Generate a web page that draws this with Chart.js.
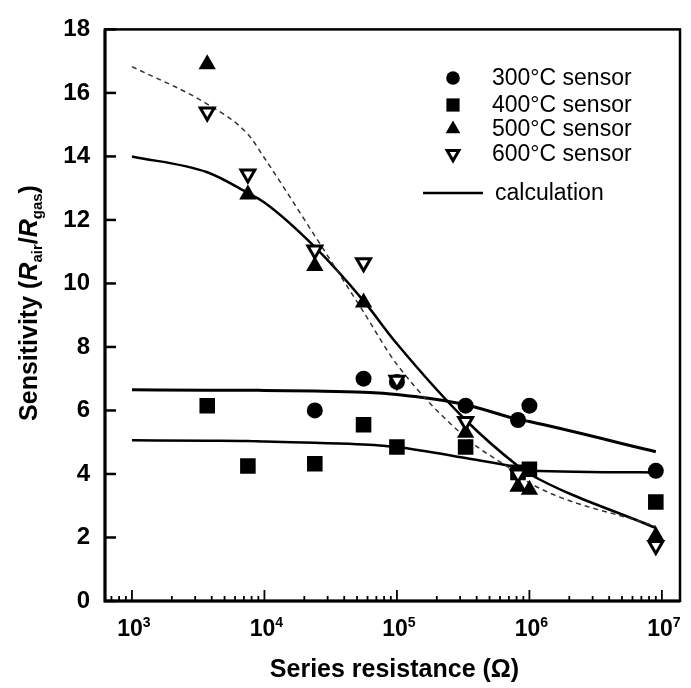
<!DOCTYPE html>
<html>
<head>
<meta charset="utf-8">
<script src="https://cdn.jsdelivr.net/npm/chart.js@4.4.0/dist/chart.umd.min.js"></script>
<style>
  html, body { margin: 0; padding: 0; background: #fff; }
  canvas { display: block; }
</style>
</head>
<body>
<canvas id="c" width="691" height="688"></canvas>
<script>
// measured points (series resistance in ohm)
const sensorR = [3.7e3, 7.5e3, 2.4e4, 5.6e4, 1e5, 3.3e5, 8.2e5, 1e6, 9e6];
const s300 = [null, null, 6.0, 7.0, 6.9, 6.15, 5.7, 6.15, 4.1];
const s400 = [6.15, 4.25, 4.32, 5.55, 4.85, 4.85, 4.05, 4.15, 3.12];
const s500 = [16.9, 12.8, 10.55, 9.4, null, 5.3, 3.6, 3.5, 2.05];
const s600 = [15.4, 13.45, 11.05, 10.65, 6.95, 5.65, 4.0, null, 1.75];

// calculated curves
const calcR = [1e3, 3.7e3, 7.5e3, 1e4, 2.4e4, 5.6e4, 1e5, 3.3e5, 8.2e5, 1e6, 9e6];
const calc300 = [6.65, 6.64, 6.64, 6.63, 6.61, 6.57, 6.5, 6.18, 5.72, 5.65, 4.7];
const calc400 = [5.06, 5.05, 5.04, 5.02, 4.98, 4.93, 4.85, 4.5, 4.2, 4.1, 4.05];
const calc500 = [14.0, 13.5, 12.85, 12.55, 11.15, 9.45, 8.1, 5.7, 4.25, 4.0, 2.3];
const calc600 = [16.83, 15.65, 14.7, 13.95, 11.5, 9.1, 7.45, 5.15, 4.0, 3.72, 2.35];

const yTickLabels = ['0', '2', '4', '6', '8', '10', '12', '14', '16', '18'];
const xTickExponents = [3, 4, 5, 6, 7];
const legendLabels = ['300\u00b0C sensor', '400\u00b0C sensor', '500\u00b0C sensor', '600\u00b0C sensor', 'calculation'];

const FONT = '"Liberation Sans", Arial, Helvetica, sans-serif';

function pts(xs, ys) {
    return xs.map((x, i) => ({ x: x, y: ys[i] })).filter(p => p.y !== null);
}

// marker styles, also used by the hand drawn legend
const markerStyles = [
    { pointStyle: 'circle', radius: 8, rotation: 0, bg: '#000', bw: 0 },
    { pointStyle: 'rect', radius: 11, rotation: 0, bg: '#000', bw: 0 },
    { pointStyle: 'triangle', radius: 10, rotation: 0, bg: '#000', bw: 0 },
    { pointStyle: 'triangle', radius: 8, rotation: 180, bg: '#fff', bw: 3 }
];

function markerSet(label, data, st) {
    return {
        label: label,
        data: data,
        showLine: false,
        pointStyle: st.pointStyle,
        pointRadius: st.radius,
        pointRotation: st.rotation,
        pointBackgroundColor: st.bg,
        pointBorderColor: '#000',
        pointBorderWidth: st.bw
    };
}

function calcSet(data, width, dash, color) {
    return {
        label: 'calculation',
        data: data,
        showLine: true,
        pointRadius: 0,
        borderColor: color,
        borderWidth: width,
        borderDash: dash,
        cubicInterpolationMode: 'monotone'
    };
}

// draw a run of text pieces (normal + subscript) along the current x axis
function drawPieces(ctx, pieces, cx, baseY) {
    let total = 0;
    pieces.forEach(p => { ctx.font = p.font; total += ctx.measureText(p.t).width; });
    let x = cx - total / 2;
    pieces.forEach(p => {
        ctx.font = p.font;
        ctx.fillText(p.t, x, baseY + (p.dy || 0));
        x += ctx.measureText(p.t).width;
    });
}

const decorPlugin = {
    id: 'decor',
    afterDatasetsDraw(chart) {
        const ctx = chart.ctx;
        const a = chart.chartArea;
        const xs = chart.scales.x;
        const ys = chart.scales.y;
        ctx.save();
        ctx.strokeStyle = '#000';
        ctx.lineWidth = 2.5;
        ctx.strokeRect(a.left, a.top, a.right - a.left, a.bottom - a.top);
        // heavier left and bottom axis lines
        ctx.lineWidth = 3;
        ctx.beginPath();
        ctx.moveTo(a.left, a.top);
        ctx.lineTo(a.left, a.bottom);
        ctx.lineTo(a.right, a.bottom);
        ctx.stroke();

        // inward ticks on left axis
        ctx.lineWidth = 2.5;
        ys.ticks.forEach(t => {
            const py = ys.getPixelForValue(t.value);
            ctx.beginPath();
            ctx.moveTo(a.left, py);
            ctx.lineTo(a.left + 11, py);
            ctx.stroke();
        });

        // inward log ticks on bottom axis
        ctx.lineWidth = 1.8;
        for (let e = 2; e <= 7; e++) {
            for (let m = 1; m <= 9; m++) {
                const v = m * Math.pow(10, e);
                if (v < xs.min || v > xs.max) continue;
                const px = xs.getPixelForValue(v);
                ctx.beginPath();
                ctx.moveTo(px, a.bottom);
                ctx.lineTo(px, a.bottom - (m === 1 ? 11 : 5));
                ctx.stroke();
            }
        }
        ctx.restore();
    },
    afterDraw(chart) {
        const ctx = chart.ctx;
        const a = chart.chartArea;
        const xs = chart.scales.x;
        ctx.save();
        ctx.fillStyle = '#000';
        ctx.textBaseline = 'alphabetic';
        ctx.textAlign = 'left';

        // x tick labels 10^n
        xTickExponents.forEach(e => {
            const px = xs.getPixelForValue(Math.pow(10, e));
            drawPieces(ctx, [
                { t: '10', font: 'bold 23px ' + FONT },
                { t: String(e), font: 'bold 14px ' + FONT, dy: -9 }
            ], px + 2, 636);
        });

        // x title
        drawPieces(ctx, [{ t: 'Series resistance (\u03a9)', font: 'bold 25px ' + FONT }], (a.left + a.right) / 2 + 2, 677);

        // y title with subscripts
        ctx.save();
        ctx.translate(28, 303);
        ctx.rotate(-Math.PI / 2);
        drawPieces(ctx, [
            { t: 'Sensitivity (', font: 'bold 25px ' + FONT },
            { t: 'R', font: 'italic bold 25px ' + FONT },
            { t: 'air', font: 'bold 15px ' + FONT, dy: 5 },
            { t: '/', font: 'bold 25px ' + FONT },
            { t: 'R', font: 'italic bold 25px ' + FONT },
            { t: 'gas', font: 'bold 15px ' + FONT, dy: 5 },
            { t: ')', font: 'bold 25px ' + FONT }
        ], 0, 9);
        ctx.restore();

        // legend
        const rows = [78, 105, 129, 154];
        rows.forEach((ry, i) => {
            const st = markerStyles[i];
            ctx.fillStyle = st.bg;
            ctx.strokeStyle = '#000';
            ctx.lineWidth = st.bw;
            Chart.helpers.drawPoint(ctx, {
                pointStyle: st.pointStyle,
                radius: st.radius * 0.85,
                rotation: st.rotation,
                borderWidth: st.bw
            }, 453, ry);
            ctx.fillStyle = '#000';
            ctx.font = '23px ' + FONT;
            ctx.textBaseline = 'middle';
            ctx.fillText(legendLabels[i], 492, ry + 1);
        });
        ctx.strokeStyle = '#000';
        ctx.lineWidth = 2.5;
        ctx.beginPath();
        ctx.moveTo(423, 193);
        ctx.lineTo(483, 193);
        ctx.stroke();
        ctx.fillText(legendLabels[4], 495, 194);
        ctx.restore();
    }
};

new Chart(document.getElementById('c'), {
    type: 'scatter',
    data: {
        datasets: [
            markerSet(legendLabels[3], pts(sensorR, s600), markerStyles[3]),
            markerSet(legendLabels[2], pts(sensorR, s500), markerStyles[2]),
            markerSet(legendLabels[1], pts(sensorR, s400), markerStyles[1]),
            markerSet(legendLabels[0], pts(sensorR, s300), markerStyles[0]),
            calcSet(pts(calcR, calc600), 1.5, [5, 4], '#333'),
            calcSet(pts(calcR, calc500), 2.5, [], '#000'),
            calcSet(pts(calcR, calc400), 2.5, [], '#000'),
            calcSet(pts(calcR, calc300), 3, [], '#000')
        ]
    },
    options: {
        responsive: false,
        animation: false,
        layout: { padding: { top: 22, right: 10, left: 0, bottom: 0 } },
        plugins: {
            legend: { display: false },
            tooltip: { enabled: false }
        },
        scales: {
            x: {
                type: 'logarithmic',
                min: 626,
                max: 1.37e7,
                grid: { display: false, drawTicks: false },
                border: { display: false },
                ticks: { display: false },
                afterFit: s => { s.height = 87; }
            },
            y: {
                min: 0,
                max: 18,
                grid: { display: false, drawTicks: false },
                border: { display: false },
                ticks: {
                    stepSize: 2,
                    padding: 15,
                    color: '#000',
                    font: { family: FONT, size: 24, weight: 'bold' },
                    callback: (v, i) => yTickLabels[i]
                },
                afterFit: s => { s.width = 105; }
            }
        }
    },
    plugins: [decorPlugin]
});
</script>
</body>
</html>
